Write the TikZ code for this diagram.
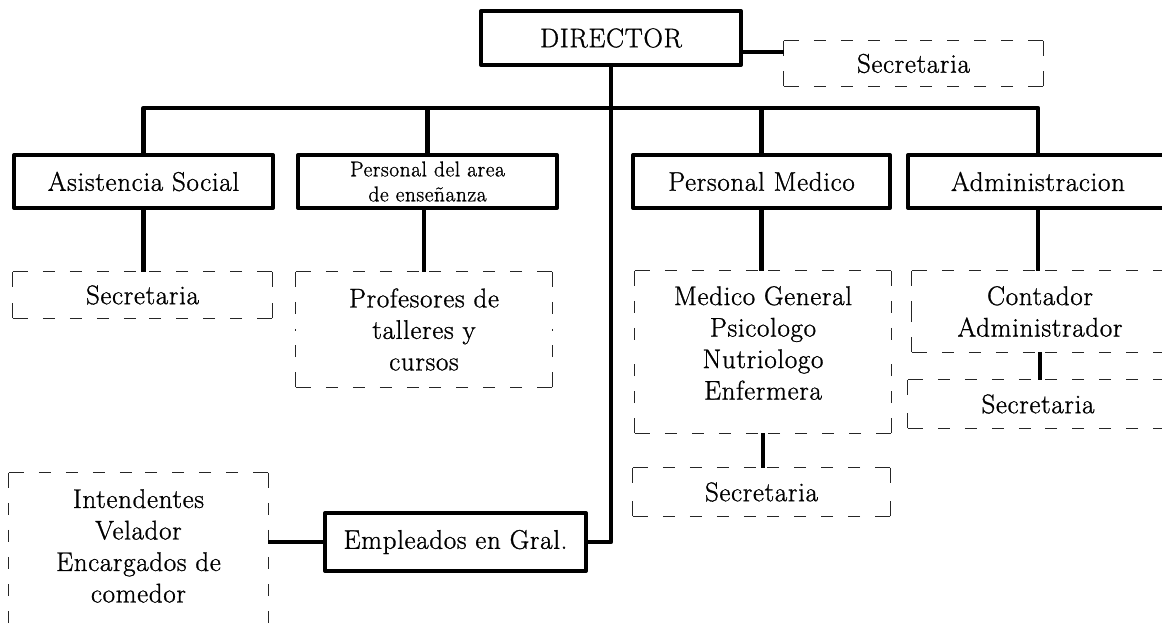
\documentclass[tikz,border=0pt]{standalone}
\usepackage{fontspec}
\setmainfont{Latin Modern Roman}[FakeBold=1, LetterSpace=2.5]
\newcommand\fsbig{\fontsize{27}{31.5}\selectfont}
\newcommand\fssmall{\fontsize{21.5}{25}\selectfont}
\tikzset{
  solidbox/.style={draw, line width=4pt, line join=round, inner sep=0pt, align=center, font=\fsbig},
  dashbox/.style={inner sep=0pt, align=center, font=\fsbig},
  dl/.style={draw=black!85, line width=1.2pt, line cap=butt,
    dash pattern=on 15pt off 15pt on 12pt off 15pt on 12pt off 15pt on 12pt off 15pt on 12pt off 15pt},
  conn/.style={draw, line width=4.5pt, line join=round},
  plain/.style={inner sep=0pt, align=center, font=\fsbig}
}
\begin{document}
\begin{tikzpicture}[x=1pt,y=-1pt]
\useasboundingbox (0,0) rectangle (1162,637);
\clip (0,0) rectangle (1162,637);
% solid boxes
\node[solidbox, minimum width=260pt, minimum height=54pt] (dir) at (611,38) {DIRECTOR};
\node[solidbox, minimum width=259pt, minimum height=53pt] (asis) at (143.5,181.5) {Asistencia Social};
\node[solidbox, minimum width=259pt, minimum height=53pt, font=\fssmall] (parea) at (427.5,181.5) {Personal del area\\de enseñanza};
\node[solidbox, minimum width=257pt, minimum height=53pt] (pmed) at (761.5,181.5) {Personal Medico};
\node[solidbox, minimum width=260pt, minimum height=53pt] (adm) at (1038,181.5) {Administracion};
\node[solidbox, minimum width=261pt, minimum height=58pt] (emp) at (455.5,542) {Empleados en Gral.};
% dashed boxes
\node[dashbox, minimum width=259pt, minimum height=45pt] (sec0) at (913.5,63.5) {Secretaria};
\node[dashbox, minimum width=259pt, minimum height=46pt] (sec1) at (142.5,295) {Secretaria};
\node[dashbox, minimum width=256pt, minimum height=115pt] (prof) at (424,329.5) {Profesores de\\talleres y\\cursos};
\node[dashbox, minimum width=256pt, minimum height=162pt] (med) at (763,352) {};
\node[plain, anchor=north] (medtxt) at (med.north |- 0,286) {Medico General\\Psicologo\\Nutriologo\\Enfermera};
\node[dashbox, minimum width=256pt, minimum height=81pt] (cont) at (1040,311.5) {Contador\\Administrador};
\node[dashbox, minimum width=257pt, minimum height=48pt] (sec3) at (761.5,492) {Secretaria};
\node[dashbox, minimum width=260pt, minimum height=48pt] (sec4) at (1038,404) {Secretaria};
\node[dashbox, minimum width=259pt, minimum height=207pt] (int) at (138.5,576.5) {};
\node[plain, anchor=north] (inttxt) at (int.north |- 0,489) {Intendentes\\Velador\\Encargados de\\comedor};
\foreach \n in {sec0,sec1,prof,med,cont,sec3,sec4,int}{
  \draw[dl] (\n.north west) -- (\n.north) (\n.north east) -- (\n.north)
            (\n.south west) -- (\n.south) (\n.south east) -- (\n.south)
            (\n.north west) -- (\n.west) (\n.south west) -- (\n.west)
            (\n.north east) -- (\n.east) (\n.south east) -- (\n.east);
}
% connectors
\coordinate (bus) at (611,108);
\draw[conn] (asis.north) |- (bus) -| (adm.north);
\draw[conn] (parea.north) -- (parea.north |- bus);
\draw[conn] (pmed.north) -- (pmed.north |- bus);
\draw[conn] (dir.south) -- (dir.south |- emp.east) -- (emp.east);
\draw[conn] (emp.west) -- (emp.west -| int.east);
\draw[conn] ([yshift=-14pt]dir.east) -- ([yshift=-14pt]dir.east -| sec0.west);
\draw[conn] (asis.south) -- (asis.south |- sec1.north);
\draw[conn] (prof.north |- parea.south) -- (prof.north);
\draw[conn] (pmed.south) -- (pmed.south |- med.north);
\draw[conn] (adm.south) -- (adm.south |- cont.north);
\draw[conn] (med.south) -- (med.south |- sec3.north);
\draw[conn] (cont.south) -- (cont.south |- sec4.north);
\end{tikzpicture}
\end{document}
